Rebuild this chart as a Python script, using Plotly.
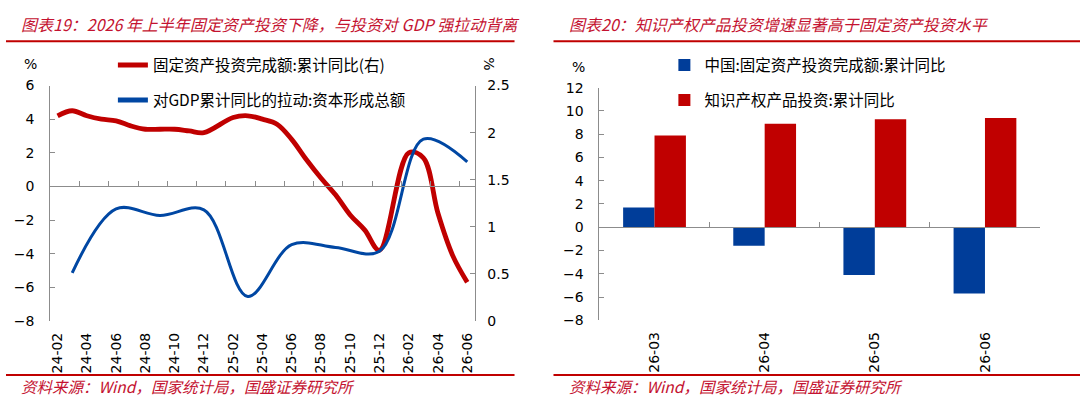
import plotly.graph_objects as go

# ---------------- data ----------------
months = ["24-02", "24-03", "24-04", "24-05", "24-06", "24-07", "24-08", "24-09", "24-10", "24-11", "24-12",
          "25-01", "25-02", "25-03", "25-04", "25-05", "25-06", "25-07", "25-08", "25-09", "25-10", "25-11", "25-12",
          "26-01", "26-02", "26-03", "26-04", "26-05", "26-06"]
month_ticks = months[::2]

# 固定资产投资完成额:累计同比 (%), no January releases
fai_yoy = [4.2, 4.5, 4.2, 4.0, 3.9, 3.6, 3.4, 3.4, 3.4, 3.3, 3.2,
           None, 4.1, 4.2, 4.0, 3.7, 2.8, 1.6, 0.5, -0.5, -1.7, -2.6, -3.8,
           None, 2.0, 1.7, -1.6, -4.1, -5.7]

# 对GDP累计同比的拉动:资本形成总额 (pct pts, right axis)
quarters = ["24-03", "24-06", "24-09", "24-12", "25-03", "25-06", "25-09", "25-12", "26-03", "26-06"]
capital_pull = [0.51, 1.19, 1.12, 1.18, 0.26, 0.81, 0.78, 0.74, 1.93, 1.69]

bar_months = ["26-03", "26-04", "26-05", "26-06"]
fai_bar = [1.7, -1.6, -4.1, -5.7]
ipp_bar = [7.9, 8.9, 9.3, 9.4]

left_y_range = [-8, 6]
right_y_range = [0, 2.5]
bar_y_range = [-8, 12]

# ---------------- styling helpers ----------------
W, H = 1080, 408
RED = "#C00000"
BLUE = "#0047A3"
BAR_BLUE = "#003D99"
TXT_RED = "#C41230"
AX = "#8C8C8C"
TICK_FONT = dict(family="DejaVu Sans", size=14, color="#000000")
CJK = "Noto Sans CJK SC"

def px(x):
    return x / W

def py(y):
    return 1 - y / H

# panel geometry (pixels)
L_x0, L_x1 = 49.3, 474.0
L_y0, L_y1 = 80.7, 325.7
R_x0, R_x1 = 599.0, 1040.0
R_y0, R_y1 = 83.0, 325.0

l_dom_y = [py(L_y1), py(L_y0)]
r_dom_y = [py(R_y1), py(R_y0)]
l_zero = l_dom_y[0] + (0 - left_y_range[0]) / (left_y_range[1] - left_y_range[0]) * (l_dom_y[1] - l_dom_y[0])
r_zero = r_dom_y[0] + (0 - bar_y_range[0]) / (bar_y_range[1] - bar_y_range[0]) * (r_dom_y[1] - r_dom_y[0])

n = len(months)
left_bound_ticks = [i - 0.5 for i in range(2, n, 2)]
nb = len(bar_months)
right_bound_ticks = [i + 0.5 for i in range(nb)]

fig = go.Figure()

fig.add_trace(go.Scatter(
    x=months, y=fai_yoy, mode="lines", connectgaps=True,
    line=dict(color=RED, width=4.8, shape="spline", smoothing=1.0),
    name="固定资产投资完成额:累计同比(右)", xaxis="x", yaxis="y",
    legend="legend", legendgroup="a", hoverinfo="skip"))
fig.add_trace(go.Scatter(
    x=quarters, y=capital_pull, mode="lines",
    line=dict(color=BLUE, width=3, shape="spline", smoothing=1.0),
    name="对GDP累计同比的拉动:资本形成总额", xaxis="x", yaxis="y2",
    legend="legend", legendgroup="b", hoverinfo="skip"))
# empty helpers so the zero-line tick axes are drawn
fig.add_trace(go.Scatter(x=[], y=[], xaxis="x2", yaxis="y", showlegend=False, hoverinfo="skip"))
fig.add_trace(go.Scatter(x=[], y=[], xaxis="x4", yaxis="y3", showlegend=False, hoverinfo="skip"))

fig.add_trace(go.Bar(
    x=bar_months, y=fai_bar, marker=dict(color=BAR_BLUE, line=dict(width=0)),
    name="中国:固定资产投资完成额:累计同比", xaxis="x3", yaxis="y3",
    legend="legend2", legendgroup="c", hoverinfo="skip"))
fig.add_trace(go.Bar(
    x=bar_months, y=ipp_bar, marker=dict(color=RED, line=dict(width=0)),
    name="知识产权产品投资:累计同比", xaxis="x3", yaxis="y3",
    legend="legend2", legendgroup="d", hoverinfo="skip"))

legend_common = dict(
    font=dict(family=CJK, size=15.5, color="#000000"),
    bgcolor="rgba(0,0,0,0)", borderwidth=0,
    xanchor="left", yanchor="top", tracegroupgap=12,
    itemsizing="constant",
)

fig.update_layout(
    width=W, height=H,
    margin=dict(l=0, r=0, t=0, b=0),
    paper_bgcolor="white", plot_bgcolor="white",
    barmode="group", bargap=0.43, bargroupgap=0.0,
    legend=dict(**legend_common, x=px(112), y=py(42)),
    legend2=dict(**legend_common, x=px(664), y=py(42)),
    xaxis=dict(
        domain=[px(L_x0), px(L_x1)], anchor="y", type="category",
        categoryorder="array", categoryarray=months,
        range=[-0.5, n - 0.5], tickmode="array", tickvals=month_ticks, ticktext=month_ticks,
        tickangle=-90, ticks="", showline=False, showgrid=False, zeroline=False,
        tickfont=TICK_FONT, ticklabelstandoff=8, fixedrange=True),
    xaxis2=dict(
        overlaying="x", anchor="free", position=l_zero, type="linear",
        range=[-0.5, n - 0.5], tickmode="array", tickvals=left_bound_ticks,
        ticks="inside", ticklen=5, tickcolor=AX, showline=True, linecolor=AX, linewidth=1,
        showticklabels=False, showgrid=False, zeroline=False, fixedrange=True),
    yaxis=dict(
        domain=l_dom_y, anchor="x", range=left_y_range, dtick=2,
        ticks="inside", ticklen=5, tickcolor=AX, showline=True, linecolor=AX, linewidth=1,
        showgrid=False, zeroline=False, tickfont=TICK_FONT, ticklabelstandoff=12, fixedrange=True),
    yaxis2=dict(
        overlaying="y", side="right", anchor="x", range=right_y_range, dtick=0.5,
        ticks="inside", ticklen=5, tickcolor=AX, showline=True, linecolor=AX, linewidth=1,
        showgrid=False, zeroline=False, tickfont=TICK_FONT, ticklabelstandoff=9, fixedrange=True),
    xaxis3=dict(
        domain=[px(R_x0), px(R_x1)], anchor="y3", type="category",
        categoryorder="array", categoryarray=bar_months, range=[-0.5, nb - 0.5],
        tickangle=-90, ticks="", showline=False, showgrid=False, zeroline=False,
        tickfont=TICK_FONT, ticklabelstandoff=8, fixedrange=True),
    xaxis4=dict(
        overlaying="x3", anchor="free", position=r_zero, type="linear",
        range=[-0.5, nb - 0.5], tickmode="array", tickvals=right_bound_ticks,
        ticks="inside", ticklen=5, tickcolor=AX, showline=True, linecolor=AX, linewidth=1,
        showticklabels=False, showgrid=False, zeroline=False, fixedrange=True),
    yaxis3=dict(
        domain=r_dom_y, anchor="x3", range=bar_y_range, dtick=2,
        ticks="inside", ticklen=5, tickcolor=AX, showline=True, linecolor=AX, linewidth=1,
        showgrid=False, zeroline=False, tickfont=TICK_FONT, ticklabelstandoff=12, fixedrange=True),
)

title_font = dict(family=CJK, size=16, color=TXT_RED, style="italic")
src_font = dict(family=CJK, size=15.5, color=TXT_RED, style="italic")
pct_font = dict(family="DejaVu Sans", size=14, color="#000000")

annotations = [
    dict(text="图表19：2026 年上半年固定资产投资下降，与投资对 GDP 强拉动背离", x=px(18), y=py(17),
         xanchor="left", yanchor="middle", font=title_font),
    dict(text="图表20：知识产权产品投资增速显著高于固定资产投资水平", x=px(567), y=py(17),
         xanchor="left", yanchor="middle", font=title_font),
    dict(text="资料来源：Wind，国家统计局，国盛证券研究所", x=px(18), y=py(393),
         xanchor="left", yanchor="middle", font=src_font),
    dict(text="资料来源：Wind，国家统计局，国盛证券研究所", x=px(567), y=py(393),
         xanchor="left", yanchor="middle", font=src_font),
    dict(text="%", x=px(30), y=py(58), xanchor="center", yanchor="middle", font=pct_font),
    dict(text="%", x=px(489), y=py(58), xanchor="center", yanchor="middle", font=pct_font, textangle=90),
    dict(text="%", x=px(578), y=py(61), xanchor="center", yanchor="middle", font=pct_font),
]
for a in annotations:
    a.update(xref="paper", yref="paper", showarrow=False)
fig.update_layout(annotations=annotations)

shapes = []
for (x0, x1) in [(5, 514), (553, 1080)]:
    for yy in (34.5, 382):
        shapes.append(dict(type="line", xref="paper", yref="paper",
                           x0=px(x0), x1=px(x1), y0=py(yy), y1=py(yy),
                           line=dict(color=RED, width=2)))
fig.update_layout(shapes=shapes)

fig.write_html(
    "out.html",
    config={"displayModeBar": False, "staticPlot": True},
    post_script="document.documentElement.style.margin='0';document.body.style.margin='0';"
                "document.body.style.padding='0';document.body.style.overflow='hidden';",
)
